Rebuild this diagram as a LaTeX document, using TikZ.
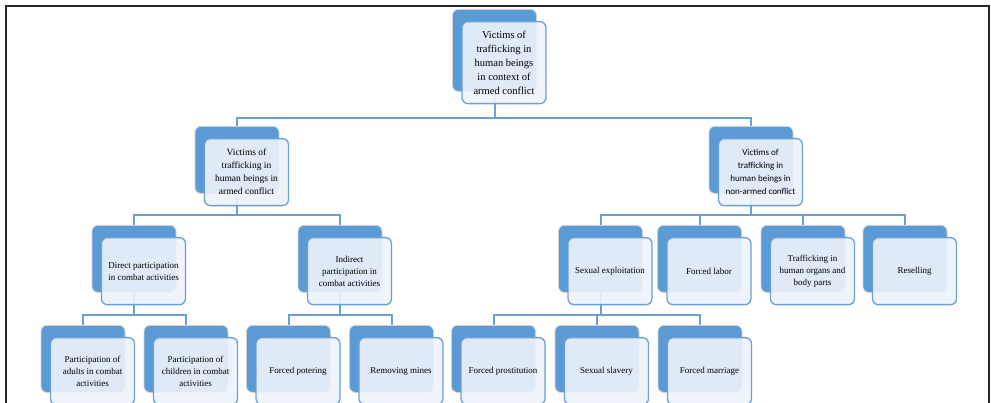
\documentclass[tikz,border=0pt]{standalone}
\usepackage{fontspec}
\setmainfont{Liberation Serif}
\newfontfamily\carlitofont{Carlito}
\usetikzlibrary{calc,backgrounds}
\definecolor{sablue}{HTML}{5B9BD5}
\definecolor{frontfill}{HTML}{EEF3FA}
\definecolor{frontline}{HTML}{6A9FD8}
\definecolor{connc}{HTML}{6E9FD4}
\definecolor{framec}{HTML}{262626}
\tikzset{
  backbox/.style={draw=black!18, line width=0.8pt, fill=sablue, rounded corners=6pt,
    minimum width=84pt, minimum height=67pt, inner sep=0pt},
  frontbox/.style={draw=frontline, line width=1.3pt, fill=frontfill, fill opacity=0.9,
    text opacity=1, rounded corners=6pt, minimum width=84pt, minimum height=67pt,
    inner sep=1pt, align=center, font=\fontsize{9}{12}\selectfont},
  conn/.style={draw=connc, line width=2pt},
}
\newcommand\mybox[5]{%
  \node[backbox, anchor=north, #5] (#1B) at (#2,#3) {};
  \node[frontbox, anchor=north, #5] (#1) at ($(#1B.north)+(9.5,12)$) {#4};
}
\begin{document}
\begin{tikzpicture}[x=1pt,y=-1pt]
\useasboundingbox (0,0) rectangle (991,403);
% top
\mybox{top}{494.5}{9}{Victims of\\trafficking in\\human beings\\in context of\\armed conflict}{minimum height=82pt, font=\fontsize{10.5}{14}\selectfont}
% level 2
\mybox{arm}{237}{126}{Victims of\\trafficking in\\human beings in\\armed conflict}{font=\fontsize{9.5}{13}\selectfont}
\mybox{non}{751}{126}{Victims of\\trafficking in\\human beings in\\non-armed conflict}{font=\carlitofont\fontsize{9}{13}\selectfont}
% level 3
\mybox{dir}{134}{225}{Direct participation\\in combat activities}{}
\mybox{ind}{340}{225}{Indirect\\participation in\\combat activities}{}
\mybox{sex}{600.5}{225}{Sexual exploitation}{}
\mybox{lab}{699.5}{225}{Forced labor}{}
\mybox{org}{803}{225}{Trafficking in\\human organs and\\body parts}{}
\mybox{res}{905}{225}{Reselling}{}
% level 4
\mybox{adu}{83}{325}{Participation of\\adults in combat\\activities}{}
\mybox{chi}{186}{325}{Participation of\\children in combat\\activities}{}
\mybox{pot}{288.5}{325}{Forced potering}{}
\mybox{min}{391.5}{325}{Removing mines}{}
\mybox{pro}{493.5}{325}{Forced prostitution}{}
\mybox{sla}{597}{325}{Sexual slavery}{}
\mybox{mar}{700}{325}{Forced marriage}{}
% junction levels
\coordinate (ya) at (0,118);
\coordinate (yb) at (0,215);
\coordinate (yc) at (0,315);
\begin{scope}[on background layer]
\fill[white] (0,0) rectangle (991,403);
\foreach \p/\c in {top/arm, top/non}
  \draw[conn] (\p B.center) -- (\p B.center |- ya) -| (\c B.center);
\foreach \p/\c in {arm/dir, arm/ind, non/sex, non/lab, non/org, non/res}
  \draw[conn] (\p B.center) -- (\p B.center |- yb) -| (\c B.center);
\foreach \p/\c in {dir/adu, dir/chi, ind/pot, ind/min, sex/pro, sex/sla, sex/mar}
  \draw[conn] (\p B.center) -- (\p B.center |- yc) -| (\c B.center);
\end{scope}
% frame
\draw[framec, line width=2.5pt] (6,404) -- (6,6) -- (989,6) -- (989,404);
\end{tikzpicture}
\end{document}
